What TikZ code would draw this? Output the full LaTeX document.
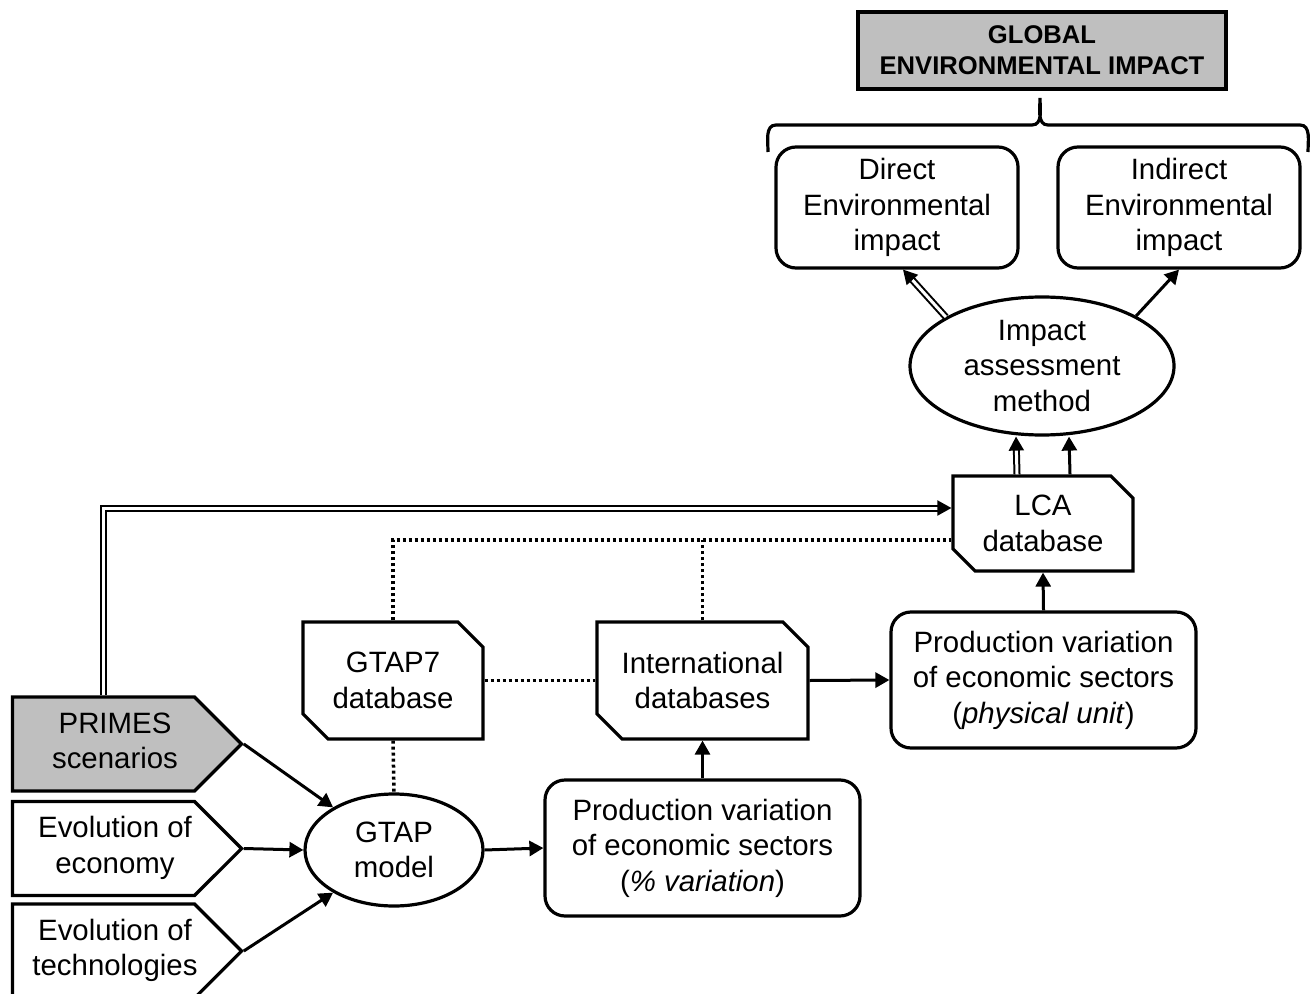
\documentclass[tikz,border=0pt]{standalone}
\usepackage{fontspec}
\setmainfont{Liberation Sans}
\usetikzlibrary{shapes.geometric, shapes.misc, shapes.symbols, arrows.meta}
\newcommand{\intxt}[1]{\hspace*{5.75pt}\begin{tabular}{@{}c@{}}#1\end{tabular}\hspace*{-5.75pt}}

\begin{document}
\begin{tikzpicture}[x=0.5pt,y=-0.5pt]

\tikzset{every node/.style = {line width=1.6pt, align=center, inner sep=0pt, font=\fontsize{14.7}{17.75}\selectfont}}
\tikzset{rbox/.style = {shape=rectangle, draw, rounded corners=10pt}}
\tikzset{dbase/.style = {shape=chamfered rectangle, draw, chamfered rectangle corners={north east, south west}, chamfered rectangle xsep=9pt}}
\tikzset{oval/.style = {shape=ellipse, draw}}
\tikzset{inbox/.style = {shape=signal, draw, signal to=east, signal pointer angle=90, minimum width=114.5pt, minimum height=47pt}}
\tikzset{edge/.style = {-{Triangle[length=7pt,width=7.5pt]}, line width=1.5pt}}
\tikzset{dedge/.style = {-{Triangle[length=7pt,width=7.5pt]}, double, double distance=1.5pt, line width=1pt}}
\tikzset{dots/.style = {line width=1.75pt, dash pattern=on 1.5pt off 1.5pt}}

\useasboundingbox (0,0) rectangle (1310,994);

%impact
\node[rbox, rounded corners=0pt, fill=black!25, minimum width=184pt, minimum height=38.5pt, font=\fontsize{12.8}{15.5}\selectfont\bfseries] (global) at (1042,50.5) {GLOBAL\\ENVIRONMENTAL IMPACT};
\node[rbox, minimum width=121pt, minimum height=60.5pt] (direct) at (897,207.5) {Direct\\Environmental\\impact};
\node[rbox, minimum width=121pt, minimum height=60.5pt] (indirect) at (1179,207.5) {Indirect\\Environmental\\impact};
\node[oval, minimum width=132pt, minimum height=69pt] (impact) at (1042,366) {Impact\\assessment\\method};
%databases
\node[dbase, minimum width=90pt, minimum height=47.5pt, chamfered rectangle xsep=7.5pt] (lca) at (1043,523.5) {LCA\\database};
\node[dbase, minimum width=90pt, minimum height=58.5pt] (gtap7) at (393,680.5) {GTAP7\\database};
\node[dbase, minimum width=105.5pt, minimum height=58.5pt] (intl) at (702.5,680.5) {International\\databases};
\node[rbox, minimum width=152.5pt, minimum height=68pt] (physical) at (1043.5,680) {Production variation\\of economic sectors\\(\textit{physical unit})};
\node[rbox, minimum width=157.5pt, minimum height=68pt] (percent) at (702.5,848) {Production variation\\of economic sectors\\(\textit{\% variation})};
\node[oval, minimum width=89pt, minimum height=56pt] (gtapm) at (394,850) {GTAP\\model};
%inputs
\node[inbox, fill=black!25] (primes) at (103.5,744) {\intxt{PRIMES\\scenarios}};
\node[inbox] (econ) at (103.5,848.5) {\intxt{Evolution of\\economy}};
\node[inbox] (techn) at (103.5,951) {\intxt{Evolution of\\technologies}};

%brace
\draw[line width=1.6pt] (768,152) to[out=90,in=180] (776,125) -- (1032,125) to[out=0,in=-90] (1040,98) to[out=-90,in=180] (1048,125) -- (1300,125) to[out=0,in=90] (1308,152);

%edges
\draw[edge] (primes.east) -- (gtapm.145);
\draw[edge] (econ.east) -- (gtapm.west);
\draw[edge] (techn.east) -- (gtapm.215);
\draw[edge] (gtapm.east) -- (percent.west);
\draw[edge] (percent.north) -- (intl.south);
\draw[edge] (intl.east) -- (physical.west);
\draw[edge] (physical.north) -- (lca.south);
\draw[edge] ([xshift=13.5pt]lca.north) -- ([xshift=13.5pt]impact.south);
\draw[dedge] ([xshift=-13pt]lca.north) -- ([xshift=-13pt]impact.south);
\draw[dedge] (impact.153) -- ([xshift=3pt]direct.south);
\draw[edge] (impact.28) -- (indirect.south);
\draw[dedge] (primes.north) |- ([yshift=7.75pt]lca.west);
\draw[dots] (gtap7.north) |- ([yshift=-8.25pt]lca.west);
\draw[dots] (intl.north) -- (intl.north |- 0,540);
\draw[dots] (gtap7.east) -- (intl.west);
\draw[dots] (gtap7.south) -- (gtapm.north);

\end{tikzpicture}
\end{document}
